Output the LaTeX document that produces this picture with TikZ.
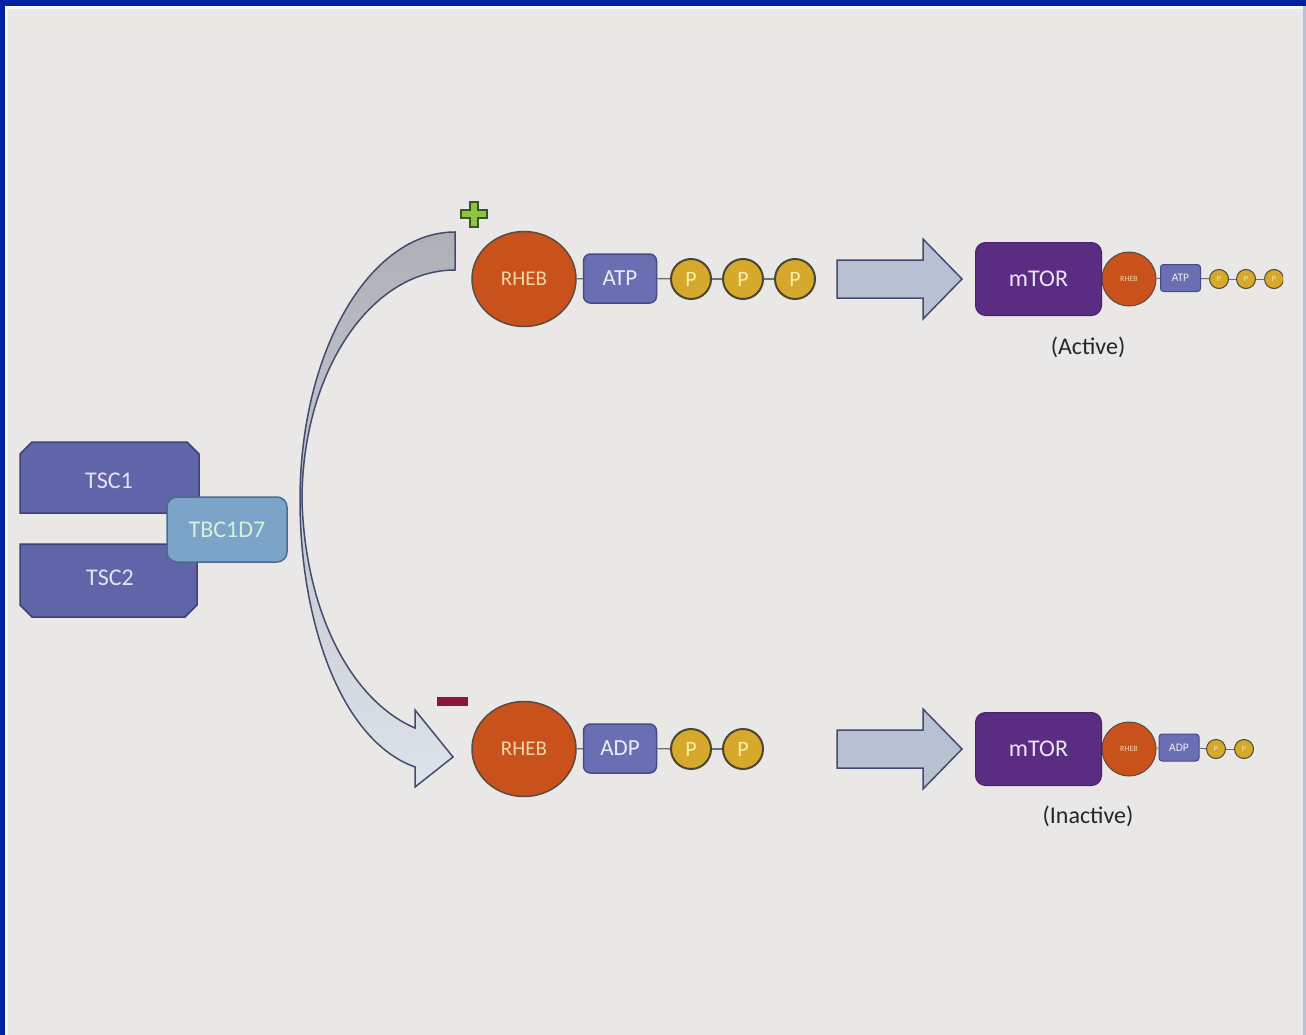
\documentclass[tikz,border=0pt]{standalone}
\usepackage{fontspec}
\setmainfont{Carlito}
\usetikzlibrary{shapes.geometric}
\definecolor{bg}{HTML}{E9E8E6}
\definecolor{frameblue}{HTML}{0021A0}
\definecolor{tscfill}{HTML}{6064A8}
\definecolor{tscline}{HTML}{3E4278}
\definecolor{tsctext}{HTML}{E4E4F0}
\definecolor{tbcfill}{HTML}{7CA3C8}
\definecolor{tbcline}{HTML}{4C6C8E}
\definecolor{tbctext}{HTML}{D6F2D6}
\definecolor{rhebfill}{HTML}{C9521C}
\definecolor{rhebline}{HTML}{5A4A42}
\definecolor{rhebtext}{HTML}{F2D4A6}
\definecolor{atpfill}{HTML}{6A6FB4}
\definecolor{atpline}{HTML}{464A86}
\definecolor{atptext}{HTML}{ECECF6}
\definecolor{pfill}{HTML}{D6A92C}
\definecolor{pline}{HTML}{4A4632}
\definecolor{ptext}{HTML}{F6EDA6}
\definecolor{arrfill}{HTML}{B7C1D1}
\definecolor{arrline}{HTML}{454B6E}
\definecolor{mtorfill}{HTML}{5A2D83}
\definecolor{mtorline}{HTML}{48216E}
\definecolor{mtortext}{HTML}{ECE4F4}
\definecolor{linkgray}{HTML}{6E7078}
\definecolor{plusgreen}{HTML}{8CC640}
\definecolor{plusline}{HTML}{3C5424}
\definecolor{minusred}{HTML}{8A1638}
\definecolor{curvetop}{HTML}{AEB0B6}
\definecolor{curvebot}{HTML}{DDE3EA}
\begin{document}
\begin{tikzpicture}[x=1pt,y=-1pt,
  tscbox/.style={fill=tscfill,draw=tscline,line width=1.5},
  tbcbox/.style={rectangle,rounded corners=10,fill=tbcfill,draw=tbcline,line width=1.5,
    minimum width=120,minimum height=65,text=tbctext,font=\fontsize{24}{28}\selectfont},
  rheb/.style={ellipse,fill=rhebfill,draw=rhebline,line width=1.5,minimum width=104,
    minimum height=95,inner sep=0,text=rhebtext,font=\fontsize{21}{24}\selectfont},
  atpbox/.style={rectangle,rounded corners=7,fill=atpfill,draw=atpline,line width=1.5,
    minimum width=73,minimum height=49,inner sep=0,text=atptext,font=\fontsize{23}{26}\selectfont},
  pcirc/.style={circle,fill=pfill,draw=pline,line width=2,minimum size=40,inner sep=0,
    text=ptext,font=\fontsize{22}{24}\selectfont},
  mtorbox/.style={rectangle,rounded corners=10,fill=mtorfill,draw=mtorline,line width=1,
    minimum width=126,minimum height=73,inner sep=0,text=mtortext,font=\fontsize{24}{28}\selectfont},
  srheb/.style={circle,fill=rhebfill,draw=rhebline,line width=1,minimum size=54,inner sep=0,
    text=rhebtext,font=\fontsize{8}{9}\selectfont},
  satp/.style={rectangle,rounded corners=3,fill=atpfill,draw=atpline,line width=1,
    minimum width=40,minimum height=27,inner sep=0,text=atptext,font=\fontsize{11.5}{13}\selectfont},
  spc/.style={circle,fill=pfill,draw=pline,line width=1,minimum size=19,inner sep=0,
    text=ptext,font=\fontsize{8}{9}\selectfont},
  link/.style={draw=linkgray,line width=1.3},
  bigarrow/.style={fill=arrfill,draw=arrline,line width=1.5,line join=miter},
  caption/.style={text=black!85,font=\fontsize{24}{28}\selectfont}]
\useasboundingbox (0,0) rectangle (1306,1035);
% background and frame
\fill[bg] (0,0) rectangle (1306,1035);
\fill[white!70!bg] (5,6) rectangle (1306,9);
\fill[white!70!bg] (5,6) rectangle (8,1035);
\fill[frameblue] (0,0) rectangle (1306,6);
\fill[frameblue] (0,0) rectangle (5,1035);
\fill[frameblue!20!bg] (1303,6) rectangle (1306,1035);
% TSC complex
\draw[tscbox] (20,513) -- (20,454) -- (32,442) -- (187,442) -- (199,454) -- (199,513) -- cycle;
\draw[tscbox] (20,544) -- (20,605) -- (32,617) -- (185,617) -- (197,605) -- (197,544) -- cycle;
\node[text=tsctext,font=\fontsize{24}{28}\selectfont] (tsc1) at (109,481) {TSC1};
\node[text=tsctext,font=\fontsize{24}{28}\selectfont] (tsc2) at (110,578) {TSC2};
\node[tbcbox] (tbc) at (227,529.5) {TBC1D7};
% curved arrow
\draw[top color=curvetop,bottom color=curvebot,draw=arrline,line width=1.5,line join=miter]
  (455,270) -- (455,232)
  .. controls (369,232) and (300,352) .. (300,500)
  .. controls (300,620) and (340,740) .. (415,767)
  -- (415,787) -- (453,757) -- (415,710) -- (415,728)
  .. controls (350,700) and (305,610) .. (302,500)
  .. controls (302,373) and (370,270) .. (455,270) -- cycle;
% plus and minus
\draw[fill=plusgreen,draw=plusline,line width=1.5]
  (470,202) -- (478,202) -- (478,210) -- (487,210) -- (487,218) -- (478,218) -- (478,227)
  -- (470,227) -- (470,218) -- (461,218) -- (461,210) -- (470,210) -- cycle;
\fill[minusred] (437,697) rectangle (468,706);
% top row
\node[rheb] (rheb1) at (524,279) {RHEB};
\node[atpbox] (atp1) at (620,278.5) {ATP};
\node[pcirc] (p11) at (691,279) {P};
\node[pcirc] (p12) at (743,279) {P};
\node[pcirc] (p13) at (795,279) {P};
\draw[link] (rheb1) -- (atp1);
\draw[link] (atp1) -- (p11);
\draw[link] (p11) -- (p12);
\draw[link] (p12) -- (p13);
% bottom row
\node[rheb] (rheb2) at (524,749) {RHEB};
\node[atpbox] (adp2) at (620,748.5) {ADP};
\node[pcirc] (p21) at (691,749) {P};
\node[pcirc] (p22) at (743,749) {P};
\draw[link] (rheb2) -- (adp2);
\draw[link] (adp2) -- (p21);
\draw[link] (p21) -- (p22);
% big arrows
\foreach \yy in {0,470}{
  \draw[bigarrow,yshift=-\yy] (837,260) -- (923,260) -- (923,239) -- (962,279)
    -- (923,319) -- (923,298) -- (837,298) -- cycle;
}
% active complex
\node[srheb] (srheb1) at (1129,279) {RHEB};
\node[mtorbox] (mtor1) at (1038.5,279) {mTOR};
\node[satp] (satp1) at (1180.5,278) {ATP};
\node[spc] (sp11) at (1219,279) {P};
\node[spc] (sp12) at (1246,279) {P};
\begin{scope}
\clip (1200,260) rectangle (1283,300);
\node[spc] (sp13) at (1274,279) {P};
\end{scope}
\draw[link,line width=1] (srheb1) -- (satp1);
\draw[link,line width=1] (satp1) -- (sp11);
\draw[link,line width=1] (sp11) -- (sp12);
\draw[link,line width=1] (sp12) -- (1264.5,279);
\node[caption] (active) at (1088,347) {(Active)};
% inactive complex
\node[srheb] (srheb2) at (1129,749) {RHEB};
\node[mtorbox] (mtor2) at (1038.5,749) {mTOR};
\node[satp] (sadp2) at (1179,747.5) {ADP};
\node[spc] (sp21) at (1216,749) {P};
\node[spc] (sp22) at (1244,749) {P};
\draw[link,line width=1] (srheb2) -- (sadp2);
\draw[link,line width=1] (sadp2) -- (sp21);
\draw[link,line width=1] (sp21) -- (sp22);
\node[caption] (inactive) at (1088,816) {(Inactive)};
\end{tikzpicture}
\end{document}
